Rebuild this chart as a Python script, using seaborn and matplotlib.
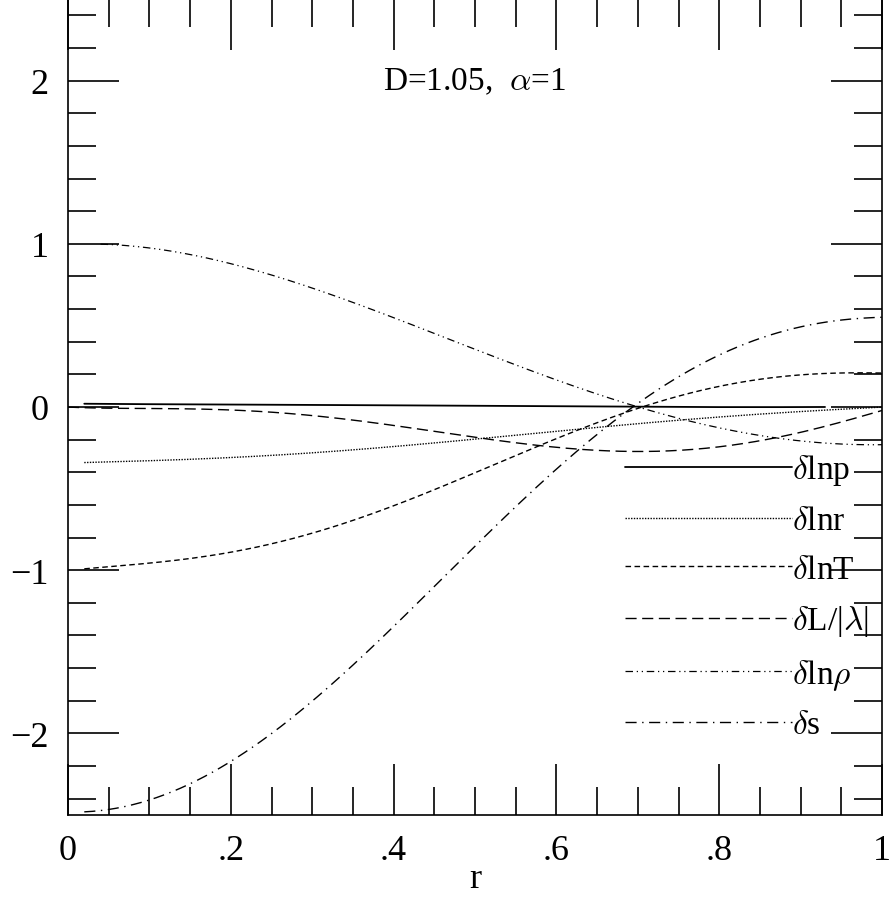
import matplotlib
matplotlib.use("Agg")
import matplotlib.pyplot as plt
import seaborn as sns
import numpy as np
from matplotlib.ticker import MultipleLocator, FixedLocator

r_p = [0.02, 0.2, 0.4, 0.6, 0.7, 0.8, 0.93]
lnp = [0.02, 0.015, 0.01, 0.005, 0.0, 0.0, 0.0]
r_r = [0.02, 0.1, 0.2, 0.3, 0.4, 0.5, 0.6, 0.7, 0.8, 0.9, 1.0]
lnr = [-0.34, -0.33, -0.31, -0.28, -0.24, -0.2, -0.15, -0.1, -0.06, -0.03, 0.0]
r_T = [0.02, 0.1, 0.2, 0.3, 0.4, 0.5, 0.6, 0.7, 0.8, 0.9, 1.0]
lnT = [-0.99, -0.96, -0.89, -0.77, -0.6, -0.41, -0.2, 0.0, 0.13, 0.19, 0.21]
r_L = [0.0, 0.1, 0.2, 0.3, 0.4, 0.5, 0.6, 0.65, 0.7, 0.8, 0.9, 1.0]
dL = [0.0, -0.01, -0.02, -0.05, -0.11, -0.19, -0.25, -0.265, -0.27, -0.24, -0.16, -0.02]
r_rho = [0.04, 0.1, 0.2, 0.3, 0.4, 0.5, 0.6, 0.7, 0.8, 0.9, 1.0]
lnrho = [1.0, 0.97, 0.88, 0.73, 0.55, 0.35, 0.16, 0.01, -0.13, -0.21, -0.23]
r_s = [0.02, 0.1, 0.2, 0.3, 0.4, 0.5, 0.6, 0.7, 0.8, 0.9, 1.0]
ds = [-2.48, -2.41, -2.17, -1.8, -1.35, -0.85, -0.38, 0.02, 0.32, 0.49, 0.55]

labels = [r"$\delta$lnp", r"$\delta$lnr", r"$\delta$lnT", r"$\delta$L/|$\lambda$|",
          r"$\delta$ln$\rho$", r"$\delta$s"]
series = [(r_p, lnp), (r_r, lnr), (r_T, lnT), (r_L, dL), (r_rho, lnrho), (r_s, ds)]
styles = [dict(ls="-", lw=1.3), dict(ls=(0, (1, 1)), lw=1.0), dict(ls=(0, (4, 2.5)), lw=1.0),
          dict(ls=(0, (8, 4)), lw=1.0), dict(ls=(0, (6, 3, 1, 3, 1, 3)), lw=0.9),
          dict(ls=(0, (8, 4, 1, 4)), lw=1.0)]

sns.set_style("ticks")
plt.rcParams["font.family"] = "Liberation Serif"
plt.rcParams["mathtext.fontset"] = "cm"
plt.rcParams["text.color"] = "black"
plt.rcParams["xtick.color"] = "black"
plt.rcParams["ytick.color"] = "black"
plt.rcParams["axes.labelcolor"] = "black"
plt.rcParams["axes.edgecolor"] = "black"

fig = plt.figure(figsize=(8.9, 9.03), dpi=100)
ax = fig.add_axes([68/890, 87/903, 814/890, 816/903])
for (x, y), lab, st in zip(series, labels, styles):
    xs = np.linspace(min(x), max(x), 200)
    coef = np.polyfit(x, y, 5)
    ys = np.polyval(coef, xs)
    sns.lineplot(x=xs, y=ys, ax=ax, color="black", label=lab, **st)

ax.set_xlim(0, 1)
ax.set_ylim(-2.5, 2.5)
ax.xaxis.set_major_locator(FixedLocator([0, 0.2, 0.4, 0.6, 0.8, 1.0]))
ax.set_xticklabels(["0", ".2", ".4", ".6", ".8", "1"])
ax.xaxis.set_minor_locator(MultipleLocator(0.05))
ax.yaxis.set_major_locator(MultipleLocator(1))
ax.yaxis.set_minor_locator(MultipleLocator(0.2))
ax.tick_params(which="both", direction="in", top=True, right=True, labelsize=26, width=1.2)
ax.tick_params(which="major", length=37, pad=14)
ax.tick_params(which="minor", length=20)
for s in ax.spines.values():
    s.set_linewidth(1.2)
ax.set_xlabel("r", fontsize=26, labelpad=-4)
ax.text(0.5, 0.9, r"D=1.05,  $\alpha$=1", transform=ax.transAxes, ha="center", va="center", fontsize=24)
leg = ax.legend(loc="lower right", frameon=False, fontsize=24,
                handlelength=5.0, handletextpad=0.0, labelspacing=0.55, borderaxespad=0.0)
leg.set_bbox_to_anchor((1.0, 0.075), transform=ax.transAxes)
fig.savefig("out.png", dpi=100)
